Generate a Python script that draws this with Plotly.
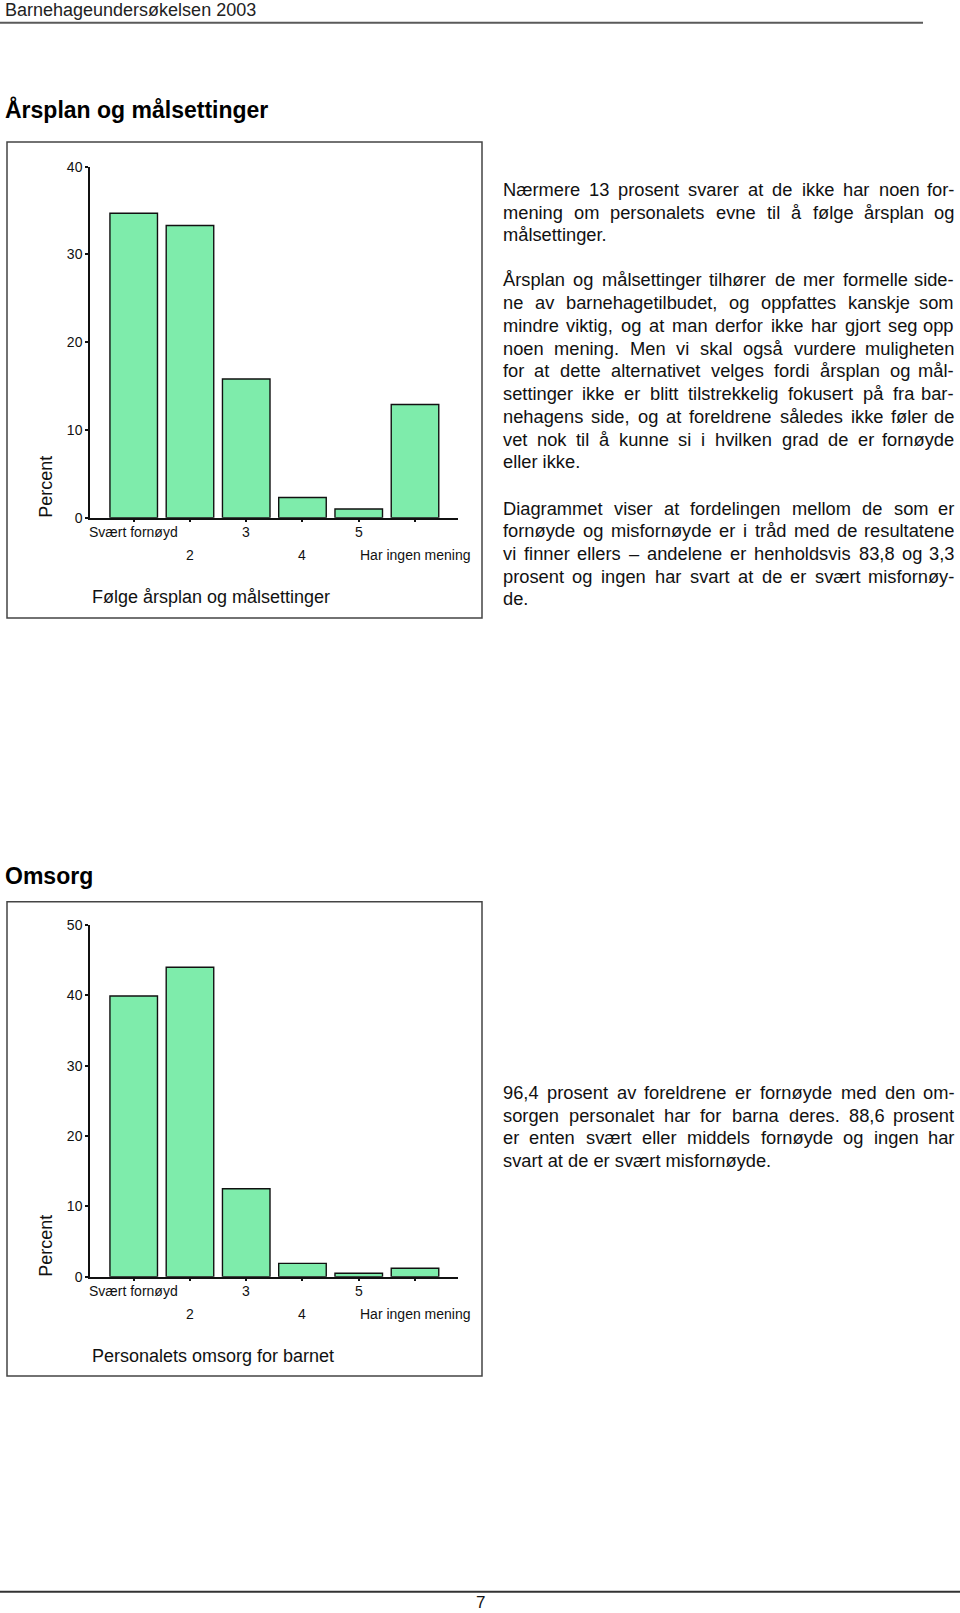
import plotly.graph_objects as go

W, H = 960, 1613

# ---------------- data ----------------
categories = ["Svært fornøyd", "2", "3", "4", "5", "Har ingen mening"]
arsplan_percent = [34.7, 33.3, 15.8, 2.3, 1.0, 12.9]
omsorg_percent = [39.9, 44.0, 12.5, 1.9, 0.5, 1.2]
arsplan_yticks = [0, 10, 20, 30, 40]
omsorg_yticks = [0, 10, 20, 30, 40, 50]

header_text = "Barnehageundersøkelsen 2003"
title1 = "Årsplan og målsettinger"
title2 = "Omsorg"
xtitle1 = "Følge årsplan og målsettinger"
xtitle2 = "Personalets omsorg for barnet"
ytitle = "Percent"
page_number = "7"

para1 = ["Nærmere 13 prosent svarer at de ikke har noen for-",
         "mening om personalets evne til å følge årsplan og",
         "målsettinger."]
para2 = ["Årsplan og målsettinger tilhører de mer formelle side-",
         "ne av barnehagetilbudet, og oppfattes kanskje som",
         "mindre viktig, og at man derfor ikke har gjort seg opp",
         "noen mening. Men vi skal også vurdere muligheten",
         "for at dette alternativet velges fordi årsplan og mål-",
         "settinger ikke er blitt tilstrekkelig fokusert på fra bar-",
         "nehagens side, og at foreldrene således ikke føler de",
         "vet nok til å kunne si i hvilken grad de er fornøyde",
         "eller ikke."]
para3 = ["Diagrammet viser at fordelingen mellom de som er",
         "fornøyde og misfornøyde er i tråd med de resultatene",
         "vi finner ellers – andelene er henholdsvis 83,8 og 3,3",
         "prosent og ingen har svart at de er svært misfornøy-",
         "de."]
para4 = ["96,4 prosent av foreldrene er fornøyde med den om-",
         "sorgen personalet har for barna deres. 88,6 prosent",
         "er enten svært eller middels fornøyde og ingen har",
         "svart at de er svært misfornøyde."]

# ---------------- style / layout ----------------
FONT = "Liberation Sans, Arial, Helvetica, sans-serif"
BAR_COLOR = "#7eecab"
TEXT_COLOR = "#111111"
TICK_SIZE = 14


def px(x):
    return x / W


def py(y):
    return 1 - y / H


# Helvetica/Arial advance widths (1/1000 em)
_WID = {' ': 278, '!': 278, ',': 278, '-': 333, '.': 278, ':': 278, ';': 278,
        '0': 556, '1': 556, '2': 556, '3': 556, '4': 556, '5': 556, '6': 556,
        '7': 556, '8': 556, '9': 556, '–': 556,
        'A': 667, 'B': 667, 'C': 722, 'D': 722, 'E': 667, 'F': 611, 'G': 778,
        'H': 722, 'I': 278, 'J': 500, 'K': 667, 'L': 556, 'M': 833, 'N': 722,
        'O': 778, 'P': 667, 'Q': 778, 'R': 722, 'S': 667, 'T': 611, 'U': 722,
        'V': 667, 'W': 944, 'X': 667, 'Y': 667, 'Z': 611, 'Å': 667, 'Ø': 778,
        'Æ': 1000,
        'a': 556, 'b': 556, 'c': 500, 'd': 556, 'e': 556, 'f': 278, 'g': 556,
        'h': 556, 'i': 222, 'j': 222, 'k': 500, 'l': 222, 'm': 833, 'n': 556,
        'o': 556, 'p': 556, 'q': 556, 'r': 333, 's': 500, 't': 278, 'u': 556,
        'v': 500, 'w': 722, 'x': 500, 'y': 500, 'z': 500, 'æ': 889, 'ø': 611,
        'å': 556}


def text_width(s, size):
    return sum(_WID.get(c, 556) for c in s) * size / 1000.0


annotations = []
shapes = []

BODY_SIZE = 18.3
COL_LEFT, COL_RIGHT = 501.7, 955.0


def word_ann(text, x, y, anchor):
    return dict(text=text, x=px(x), y=py(y), xref="paper", yref="paper",
                xanchor=anchor, yanchor="middle", showarrow=False, borderpad=0,
                font=dict(family=FONT, size=BODY_SIZE, color=TEXT_COLOR))


def add_paragraph(lines, y0, step):
    colw = COL_RIGHT - COL_LEFT
    for li, line in enumerate(lines):
        y = y0 + li * step
        words = line.split(" ")
        if li == len(lines) - 1 or len(words) == 1:
            annotations.append(word_ann(line, COL_LEFT, y, "left"))
            continue
        widths = [text_width(w, BODY_SIZE) for w in words]
        gap = (colw - sum(widths)) / (len(words) - 1)
        x = COL_LEFT
        for wi, (word, wd) in enumerate(zip(words, widths)):
            if wi == len(words) - 1:
                annotations.append(word_ann(word, COL_RIGHT, y, "right"))
            else:
                annotations.append(word_ann(word, x, y, "left"))
            x += wd + gap


add_paragraph(para1, 189.6, 22.5)
add_paragraph(para2, 280.0, 22.75)
add_paragraph(para3, 508.3, 22.6)
add_paragraph(para4, 1092.7, 22.5)

# ---------------- charts ----------------
fig = go.Figure()
x_idx = list(range(len(categories)))

charts = [
    # (values, yticks, top_px, bottom_px, box_top, box_bottom, xtitle, xaxis, yaxis)
    (arsplan_percent, arsplan_yticks, 166.7, 517.7, 142.0, 618.0, xtitle1, "x", "y"),
    (omsorg_percent, omsorg_yticks, 925.0, 1276.7, 901.7, 1376.0, xtitle2, "x2", "y2"),
]

PLOT_LEFT, PLOT_RIGHT = 90.0, 457.7
layout_axes = {}
for n, (vals, yt, top, bot, btop, bbot, xt, xa, ya) in enumerate(charts, start=1):
    fig.add_trace(go.Bar(x=x_idx, y=vals, xaxis=xa, yaxis=ya, width=0.845,
                         marker=dict(color=BAR_COLOR, line=dict(color="#111111", width=1.4)),
                         hoverinfo="y"))
    xname = "xaxis" if n == 1 else f"xaxis{n}"
    yname = "yaxis" if n == 1 else f"yaxis{n}"
    layout_axes[xname] = dict(domain=[px(PLOT_LEFT), px(PLOT_RIGHT)], range=[-0.777, 5.759],
                              anchor=ya, showline=True, linecolor="#111111", linewidth=1.5,
                              ticks="outside", ticklen=3, tickwidth=2, tickcolor="#111111",
                              tickvals=x_idx, showticklabels=False, showgrid=False, zeroline=False,
                              fixedrange=True)
    layout_axes[yname] = dict(domain=[py(bot), py(top)], range=[0, yt[-1]], anchor=xa,
                              showline=True, linecolor="#111111", linewidth=1.5,
                              ticks="outside", ticklen=3, tickwidth=2, tickcolor="#111111",
                              tickvals=yt, tickfont=dict(family=FONT, size=TICK_SIZE, color=TEXT_COLOR),
                              showgrid=False, zeroline=False, fixedrange=True)
    # staggered category labels
    for i, lab in enumerate(categories):
        off = 14.0 if i % 2 == 0 else 37.0
        annotations.append(dict(text=lab, x=i, xref=xa, y=py(bot + off), yref="paper",
                                xanchor="center", yanchor="middle", showarrow=False, borderpad=0,
                                font=dict(family=FONT, size=TICK_SIZE, color=TEXT_COLOR)))
    # x-axis title
    annotations.append(dict(text=xt, x=px(90.5), y=py(bot + 79.0), xref="paper", yref="paper",
                            xanchor="left", yanchor="middle", showarrow=False, borderpad=0,
                            font=dict(family=FONT, size=18, color=TEXT_COLOR)))
    # y-axis title
    annotations.append(dict(text=ytitle, x=px(46.0), y=py(bot - 31.0), xref="paper", yref="paper",
                            xanchor="center", yanchor="middle", textangle=-90, showarrow=False,
                            borderpad=0, font=dict(family=FONT, size=18, color=TEXT_COLOR)))
    # frame
    shapes.append(dict(type="rect", xref="paper", yref="paper", x0=px(7), x1=px(482),
                       y0=py(bbot), y1=py(btop), line=dict(color="#444444", width=1.5)))

# header, titles, footer
annotations.append(dict(text=header_text, x=px(4), y=py(10.5), xref="paper", yref="paper",
                        xanchor="left", yanchor="middle", showarrow=False, borderpad=0,
                        font=dict(family=FONT, size=18, color="#222222")))
annotations.append(dict(text=f"<b>{title1}</b>", x=px(3.5), y=py(109.7), xref="paper", yref="paper",
                        xanchor="left", yanchor="middle", showarrow=False, borderpad=0,
                        font=dict(family=FONT, size=23, color="#000000")))
annotations.append(dict(text=f"<b>{title2}</b>", x=px(3.5), y=py(876.3), xref="paper", yref="paper",
                        xanchor="left", yanchor="middle", showarrow=False, borderpad=0,
                        font=dict(family=FONT, size=23, color="#000000")))
annotations.append(dict(text=page_number, x=px(480), y=py(1612.5), xref="paper", yref="paper",
                        xanchor="center", yanchor="bottom", showarrow=False, borderpad=0,
                        font=dict(family=FONT, size=17, color="#111111")))
shapes.append(dict(type="line", xref="paper", yref="paper", x0=0, x1=px(923), y0=py(22.7), y1=py(22.7),
                   line=dict(color="#5a5a5a", width=2)))
shapes.append(dict(type="line", xref="paper", yref="paper", x0=0, x1=1, y0=py(1591.7), y1=py(1591.7),
                   line=dict(color="#333333", width=2)))

fig.update_layout(width=W, height=H, margin=dict(l=0, r=0, t=0, b=0, pad=0, autoexpand=False),
                  paper_bgcolor="white", plot_bgcolor="white", showlegend=False,
                  annotations=annotations, shapes=shapes, **layout_axes)

fig.write_html("out.html", config={"displayModeBar": False})
